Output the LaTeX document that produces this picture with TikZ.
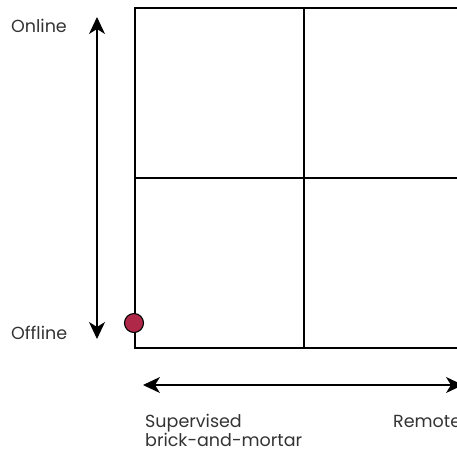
\documentclass[tikz,border=0pt]{standalone}
\usepackage{fontspec}
\setmainfont{Poppins}
\usetikzlibrary{arrows.meta}
\definecolor{dotred}{RGB}{176,40,72}

\tikzset{
  axis/.style={line width=1.2pt, {Stealth[length=17pt,width=16pt,inset=5pt]}-{Stealth[length=17pt,width=16pt,inset=5pt]}},
  lbl/.style={anchor=base west, inner sep=0pt, font=\fontsize{17.5}{19}\selectfont, text=black!80},
}

\begin{document}
\begin{tikzpicture}[x=1pt, y=-1pt]
        \useasboundingbox (0,0) rectangle (457,451);
        \clip (0,0) rectangle (457,451);

        % the four cells
        \draw[line width=1.1pt] (135,8) rectangle (473,348);
        \draw[line width=1.1pt] (304,8) -- (304,348);
        \draw[line width=1.1pt] (135,178) -- (473,178);

        % axes
        \coordinate (top) at (97,17);
        \coordinate (bottom) at (97,339);
        \coordinate (left) at (143,385);
        \coordinate (right) at (463,385);
        \draw[axis] (bottom) -- (top);
        \draw[axis] (left) -- (right);

        \node[circle, draw, line width=1.1pt, fill=dotred, minimum size=19pt, inner sep=0pt] (dot) at (134,323) {};

        \node[lbl] (online) at (11,32) {Online};
        \node[lbl] (offline) at (11,339) {Offline};
        \node[lbl, align=left] (supervised) at (145,446) {Supervised\\brick-and-mortar};
        \node[lbl] (remote) at (393,427) {Remote};
    \end{tikzpicture}
\end{document}
